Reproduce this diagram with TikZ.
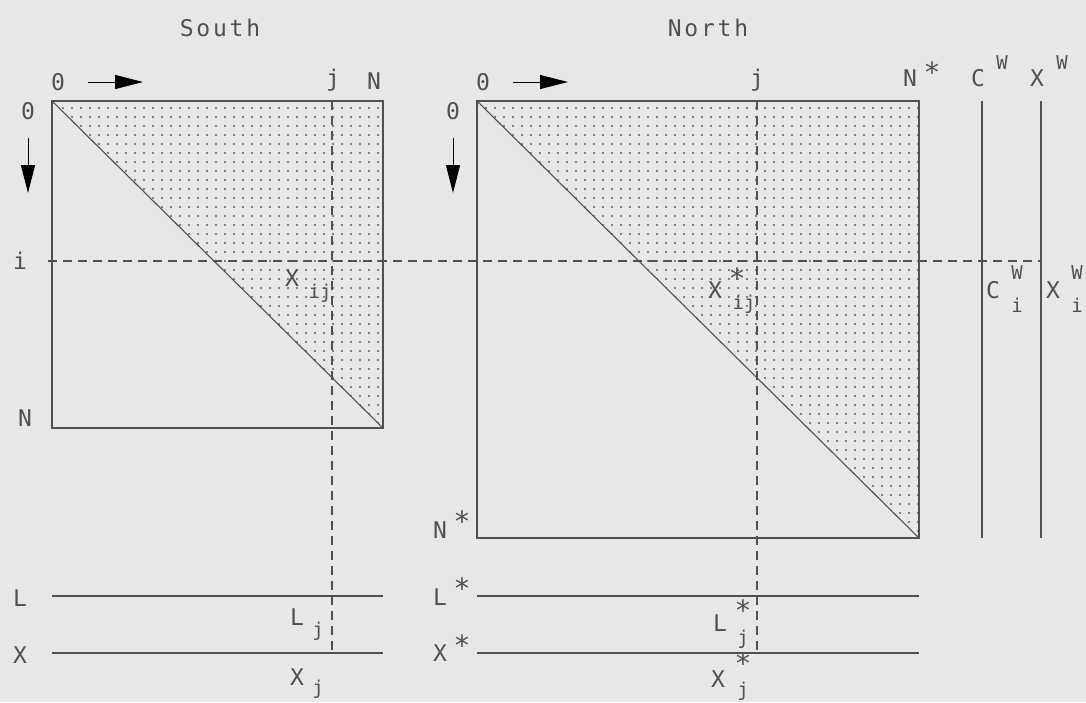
\documentclass[tikz,border=0pt]{standalone}
\usepackage{fontspec}
\setmainfont{DejaVu Sans Mono}
\usetikzlibrary{arrows.meta,patterns.meta}
\definecolor{Paper}{HTML}{E7E7E7}
\definecolor{Ink}{HTML}{505050}
\definecolor{Dot}{HTML}{606060}

\begin{document}
\begin{tikzpicture}[x=1pt,y=-1pt,
    lbl/.style={inner sep=0pt,text=Ink,font=\fontsize{23}{23}\selectfont},
    sub/.style={inner sep=0pt,text=Ink,font=\fontsize{19}{19}\selectfont},
    ttl/.style={inner sep=0pt,text=Ink,font=\fontsize{23}{23}\selectfont\addfontfeature{LetterSpace=12}},
    ast/.style={inner sep=0pt,text=Ink,font=\fontsize{28}{28}\selectfont,anchor=north},
    edgeline/.style={draw=Ink,line width=1.1pt},
    guide/.style={draw=Ink,line width=1.1pt,dash pattern=on 9pt off 6pt},
    speckle/.style={pattern={Dots[distance=9pt,radius=1.1pt]},pattern color=Dot},
    walk/.style={draw=black,line width=1pt,-{Triangle[length=28pt,width=14pt]}}]
  \fill[Paper] (0,0) rectangle (1086,702);
  \useasboundingbox (0,0) rectangle (1086,702);

  % corners of the two matrices
  \coordinate (s00) at (52,101);
  \coordinate (s0N) at (383,101);
  \coordinate (sNN) at (383,428);
  \coordinate (n00) at (477,101);
  \coordinate (n0N) at (919,101);
  \coordinate (nNN) at (919,538);

  \fill[speckle] (s00) -- (s0N) -- (sNN) -- cycle;
  \fill[speckle] (n00) -- (n0N) -- (nNN) -- cycle;
  \draw[edgeline] (s00) rectangle (sNN);
  \draw[edgeline] (s00) -- (sNN);
  \draw[edgeline] (n00) rectangle (nNN);
  \draw[edgeline] (n00) -- (nNN);

  % vectors
  \coordinate (sLa) at (52,596);  \coordinate (sLb) at (383,596);
  \coordinate (sXa) at (52,653);  \coordinate (sXb) at (383,653);
  \coordinate (nLa) at (477,596); \coordinate (nLb) at (919,596);
  \coordinate (nXa) at (477,653); \coordinate (nXb) at (919,653);
  \coordinate (cwT) at (982,101); \coordinate (cwB) at (982,538);
  \coordinate (xwT) at (1041,101); \coordinate (xwB) at (1041,538);
  \draw[edgeline] (sLa) -- (sLb);
  \draw[edgeline] (sXa) -- (sXb);
  \draw[edgeline] (nLa) -- (nLb);
  \draw[edgeline] (nXa) -- (nXb);
  \draw[edgeline] (cwT) -- (cwB);
  \draw[edgeline] (xwT) -- (xwB);

  % row i and columns j
  \coordinate (iL) at (48,261);  \coordinate (iR) at (1041,261);
  \coordinate (sjT) at (332,101); \coordinate (sjB) at (332,653);
  \coordinate (njT) at (757,101); \coordinate (njB) at (757,653);
  \draw[guide] (iL) -- (iR);
  \draw[guide] (sjT) -- (sjB);
  \draw[guide] (njT) -- (njB);

  % direction arrows
  \coordinate (sa1) at (88,82);  \coordinate (sa2) at (143,82);
  \coordinate (sd1) at (28,138); \coordinate (sd2) at (28,193);
  \coordinate (na1) at (513,82); \coordinate (na2) at (568,82);
  \coordinate (nd1) at (453,138); \coordinate (nd2) at (453,193);
  \draw[walk] (sa1) -- (sa2);
  \draw[walk] (sd1) -- (sd2);
  \draw[walk] (na1) -- (na2);
  \draw[walk] (nd1) -- (nd2);

  % South labels
  \node[ttl] (South) at (220,28) {South};
  \node[lbl] (sTop0) at (58,82) {0};
  \node[lbl] (sTopj) at (333,80) {j};
  \node[lbl] (sTopN) at (374,81) {N};
  \node[lbl] (sLeft0) at (28,111) {0};
  \node[lbl] (sLefti) at (20,261) {i};
  \node[lbl] (sLeftN) at (25,418) {N};
  \node[lbl] (sXij) at (292,278) {X};
  \node[sub] (sXijs) at (320,293) {ij};
  \node[lbl] (sL) at (20,598) {L};
  \node[lbl] (sX) at (20,655) {X};
  \node[lbl] (sLj) at (297,617) {L};
  \node[sub] (sLjs) at (318,631) {j};
  \node[lbl] (sXj) at (297,677) {X};
  \node[sub] (sXjs) at (318,689) {j};

  % North labels
  \node[ttl] (North) at (708,28) {North};
  \node[lbl] (nTop0) at (483,82) {0};
  \node[lbl] (nTopj) at (757,80) {j};
  \node[lbl] (nTopN) at (910,78) {N};
  \node[ast] (nTopNs) at (932,62) {*};
  \node[lbl] (nLeft0) at (453,111) {0};
  \node[lbl] (nLeftN) at (440,530) {N};
  \node[ast] (nLeftNs) at (462,511) {*};
  \node[lbl] (nXij) at (715,290) {X};
  \node[ast] (nXijs) at (737,268) {*};
  \node[sub] (nXijb) at (744,304) {ij};
  \node[lbl] (nL) at (440,597) {L};
  \node[ast] (nLs) at (462,578) {*};
  \node[lbl] (nX) at (440,653) {X};
  \node[ast] (nXs) at (462,635) {*};
  \node[lbl] (nLj) at (720,623) {L};
  \node[ast] (nLjs) at (743,600) {*};
  \node[sub] (nLjb) at (743,639) {j};
  \node[lbl] (nXj) at (718,679) {X};
  \node[ast] (nXjs) at (743,653) {*};
  \node[sub] (nXjb) at (743,691) {j};

  % work vectors
  \node[lbl] (Cw) at (978,78) {C};
  \node[sub] (Cws) at (1002,63) {W};
  \node[lbl] (Xw) at (1037,78) {X};
  \node[sub] (Xws) at (1062,63) {W};
  \node[lbl] (Cwi) at (993,290) {C};
  \node[sub] (Cwis) at (1017,273) {W};
  \node[sub] (Cwib) at (1017,305) {i};
  \node[lbl] (Xwi) at (1053,290) {X};
  \node[sub] (Xwis) at (1077,273) {W};
  \node[sub] (Xwib) at (1077,305) {i};
\end{tikzpicture}
\end{document}
